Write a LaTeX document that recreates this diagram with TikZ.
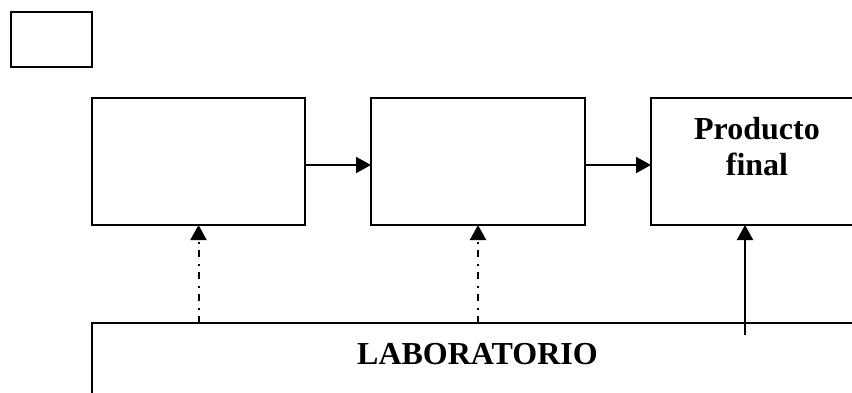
\documentclass[tikz,border=0pt]{standalone}
\usepackage{fontspec}
\setmainfont{Liberation Serif}
\usetikzlibrary{arrows.meta}
\tikzset{
  box/.style={draw, line width=2pt, rectangle, inner sep=0pt, outer sep=0pt},
  arr/.style={line width=2pt, -{Triangle[length=15pt,width=16pt]}},
  dd/.style={dash pattern=on 7pt off 6.5pt on 2pt off 6.5pt},
  lbl/.style={font=\fontsize{32}{36}\selectfont\bfseries, align=center}
}
\begin{document}
\begin{tikzpicture}[x=1pt,y=-1pt]
\useasboundingbox (0,0) rectangle (852,392);
\clip (0,0) rectangle (852,392);
\fill[white] (0,0) rectangle (852,392);
\node[box, anchor=north west, minimum width=81pt, minimum height=55pt] (s) at (11,12) {};
\node[box, anchor=north west, minimum width=213pt, minimum height=127pt] (b1) at (92,98) {};
\node[box, anchor=north west, minimum width=214pt, minimum height=127pt] (b2) at (371,98) {};
\node[box, anchor=north west, minimum width=212pt, minimum height=127pt] (b3) at (651,98) {};
\node[box, anchor=north west, minimum width=771pt, minimum height=100pt] (lab) at (92,323) {};
\node[lbl, anchor=base] (t3) at (757,175) {Producto\\final};
\node[lbl, anchor=base] (tl) at (477.5,364) {LABORATORIO};
\coordinate (a1) at (305,165);
\coordinate (a2) at (585,165);
\draw[arr] (a1) -- (a1 -| b2.west);
\draw[arr] (a2) -- (a2 -| b3.west);
\draw[arr, dd] (lab.north -| b1.south) -- (b1.south);
\draw[arr, dd] (lab.north -| b2.south) -- (b2.south);
\coordinate (c3) at (745,335);
\draw[arr] (c3) -- (c3 |- b3.south);
\end{tikzpicture}
\end{document}
